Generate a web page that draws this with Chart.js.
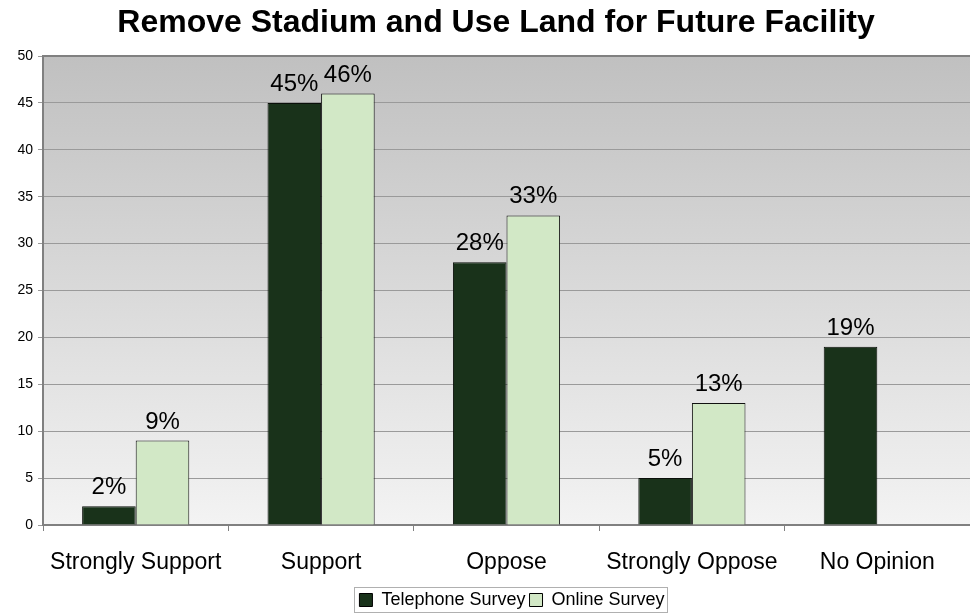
<!DOCTYPE html>
<html>
<head>
<meta charset="utf-8">
<script src="https://cdn.jsdelivr.net/npm/chart.js@4/dist/chart.umd.min.js"></script>
<style>
html,body{margin:0;padding:0;background:#fff;}
#wrap{width:970px;height:613px;}
</style>
</head>
<body>
<div id="wrap"><canvas id="c" width="970" height="613"></canvas></div>
<script>
const categories = ["Strongly Support", "Support", "Oppose", "Strongly Oppose", "No Opinion"];
const telephoneSurvey = [2, 45, 28, 5, 19];
const onlineSurvey = [9, 46, 33, 13, null];
const seriesNames = ["Telephone Survey", "Online Survey"];
const chartTitle = "Remove Stadium and Use Land for Future Facility";

const FONT = "Arial, 'Liberation Sans', sans-serif";

const bgPlugin = {
  id: 'bgPlugin',
  afterLayout(chart) {
    const lg = chart.legend;
    if (lg) { lg.left += 27; lg.right += 27; lg.top += 6; lg.bottom += 6; }
    const tb = chart.titleBlock;
    if (tb) { tb.left += 22; tb.right += 0; }
  },
  beforeDraw(chart) {
    const {ctx, chartArea: a} = chart;
    ctx.save();
    const g = ctx.createLinearGradient(0, a.top, 0, a.bottom);
    g.addColorStop(0, '#c0c0c0');
    g.addColorStop(1, '#f3f3f3');
    ctx.fillStyle = g;
    ctx.fillRect(a.left, a.top, a.right - a.left, a.bottom - a.top);
    ctx.restore();
  },
  afterDraw(chart) {
    const {ctx, chartArea: a} = chart;
    ctx.save();
    ctx.strokeStyle = '#808080';
    ctx.lineWidth = 2;
    ctx.beginPath();
    ctx.moveTo(a.left, a.bottom);
    ctx.lineTo(a.left, a.top);
    ctx.lineTo(a.right, a.top);
    ctx.stroke();
    const lg = chart.legend;
    if (lg && lg.legendHitBoxes && lg.legendHitBoxes.length) {
      let l = Infinity, r = -Infinity, t = Infinity, b = -Infinity;
      lg.legendHitBoxes.forEach(h => {
        l = Math.min(l, h.left); r = Math.max(r, h.left + h.width);
        t = Math.min(t, h.top); b = Math.max(b, h.top + h.height);
      });
      ctx.strokeStyle = '#b0b0b0';
      ctx.lineWidth = 1;
      ctx.strokeRect(Math.round(l - 5) + 0.5, Math.round(t - 4) + 0.5, Math.round(r - l + 8), Math.round(b - t + 7));
    }
    ctx.restore();
  }
};

const labelPlugin = {
  id: 'labelPlugin',
  afterDatasetsDraw(chart) {
    const {ctx} = chart;
    ctx.save();
    ctx.font = '24px ' + FONT;
    ctx.fillStyle = '#000';
    ctx.textAlign = 'center';
    ctx.textBaseline = 'alphabetic';
    chart.data.datasets.forEach((ds, di) => {
      const meta = chart.getDatasetMeta(di);
      meta.data.forEach((el, i) => {
        const v = ds.data[i];
        if (v === null || v === undefined) return;
        ctx.fillText(v + '%', el.x, el.y - 12);
      });
    });
    ctx.restore();
  }
};

new Chart(document.getElementById('c'), {
  type: 'bar',
  data: {
    labels: categories,
    datasets: [
      {label: seriesNames[0], data: telephoneSurvey, backgroundColor: '#19321a', borderColor: '#0a0f0a', borderWidth: 1},
      {label: seriesNames[1], data: onlineSurvey, backgroundColor: '#d2e8c6', borderColor: '#111', borderWidth: 1}
    ]
  },
  options: {
    responsive: false,
    animation: false,
    devicePixelRatio: 1,
    layout: {padding: {left: 0, right: 0, top: 0, bottom: 0}},
    datasets: {bar: {categoryPercentage: 0.578, barPercentage: 1.0}},
    plugins: {
      title: {display: true, text: chartTitle, color: '#000', font: {family: FONT, size: 32, weight: 'bold'}, padding: {top: 4, bottom: 13.6}},
      legend: {
        position: 'bottom',
        labels: {color: '#000', font: {family: FONT, size: 18}, boxWidth: 13, boxHeight: 13, padding: 4,
          generateLabels(chart) {
            return chart.data.datasets.map((ds, i) => ({text: ds.label, fillStyle: ds.backgroundColor, strokeStyle: '#000', lineWidth: 1, datasetIndex: i, hidden: false}));
          }
        }
      },
      tooltip: {enabled: false}
    },
    scales: {
      x: {
        grid: {drawOnChartArea: false, drawTicks: true, tickLength: 6, color: '#808080', offset: true},
        border: {color: '#808080', width: 2},
        ticks: {color: '#000', font: {family: FONT, size: 23}, padding: 18, maxRotation: 0},
        afterFit(s) { s.height = 56; }
      },
      y: {
        min: 0, max: 50,
        ticks: {stepSize: 5, color: '#000', font: {family: FONT, size: 14}, padding: 5},
        grid: {color: '#9a9a9a', tickLength: 5, drawTicks: true},
        border: {color: '#808080', width: 2},
        afterFit(s) { s.width = 43; }
      }
    }
  },
  plugins: [bgPlugin, labelPlugin]
});
</script>
</body>
</html>
